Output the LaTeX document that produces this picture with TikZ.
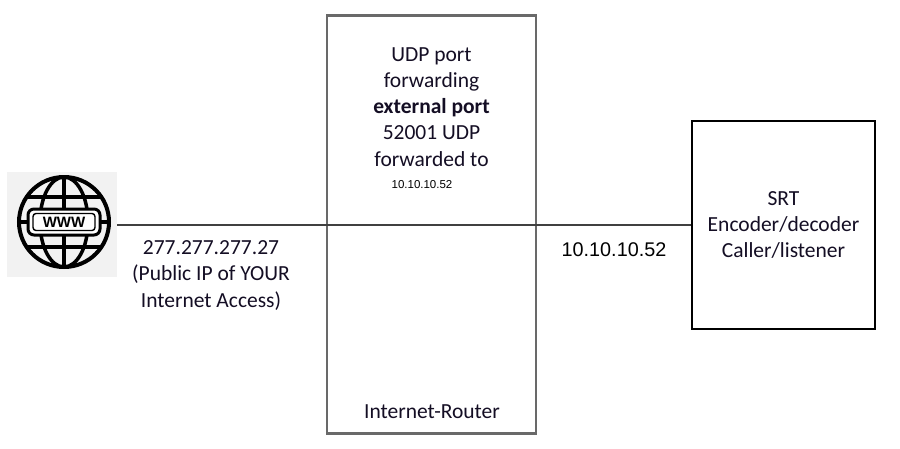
\documentclass[tikz,border=0pt]{standalone}
\usepackage{fontspec}
\usetikzlibrary{calc}
\setmainfont{Carlito}
\newfontfamily\arialfont{Liberation Sans}
\definecolor{routergray}{RGB}{105,105,105}
\definecolor{linegray}{RGB}{64,64,64}
\definecolor{txt}{RGB}{20,14,36}
\definecolor{iconbg}{RGB}{242,242,242}
\begin{document}
\begin{tikzpicture}[x=1pt,y=-1pt,
  calib/.style={font=\fontsize{21.5}{26}\selectfont, text=txt, inner sep=0pt, anchor=base},
  arialtxt/.style={font=\arialfont\fontsize{19.8}{24}\selectfont, text=black, inner sep=0pt, anchor=base},
  arialsmall/.style={font=\arialfont\fontsize{11.5}{14}\selectfont, text=black, inner sep=0pt, anchor=base},
  routerbox/.style={draw=routergray, line width=2.5pt, fill=white, minimum width=209pt, minimum height=418pt, inner sep=0pt},
  srtbox/.style={draw=black, line width=2pt, fill=white, minimum width=183pt, minimum height=208pt, inner sep=0pt},
  iconbox/.style={fill=iconbg, minimum width=110pt, minimum height=105pt, inner sep=0pt},
  link/.style={draw=linegray, line width=2pt},
  globeline/.style={draw=black, line width=3.5pt},
]
\useasboundingbox (0,0) rectangle (900,448);
\fill[white] (0,0) rectangle (900,448);

% boxes
\node[routerbox] (router) at (431.5,224.5) {};
\node[srtbox] (srt) at (783.5,224.5) {};
\node[iconbox] (globe) at (62,224.5) {};

% connector
\draw[link] (globe.east) -- (srt.west);

% globe icon
\coordinate (gc) at (64,222);
\begin{scope}
  \clip (gc) circle (45);
  \draw[globeline] ($(gc)+(0,-45)$) -- ($(gc)+(0,45)$);
  \draw[globeline] (gc) ellipse (24 and 45);
  \draw[globeline] ($(gc)+(-45,-25)$) -- ($(gc)+(45,-25)$);
  \draw[globeline] ($(gc)+(-45,25)$) -- ($(gc)+(45,25)$);
  \draw[globeline] ($(gc)+(-45,0)$) -- ($(gc)+(45,0)$);
\end{scope}
\draw[draw=black, line width=4pt] (gc) circle (45);
\draw[fill=white, draw=black, line width=3pt, rounded corners=6pt] ($(gc)+(-36,-13)$) rectangle ($(gc)+(36,13)$);
\draw[draw=black, line width=1.4pt, rounded corners=3pt] ($(gc)+(-31,-8.5)$) rectangle ($(gc)+(31,8.5)$);
\node[font=\arialfont\bfseries\fontsize{15}{15}\selectfont, inner sep=0pt] (www) at (gc) {WWW};

% left texts
\node[calib] (pubip) at (211,254) {277.277.277.27};
\node[calib] (pub2) at (211,280.5) {(Public IP of YOUR};
\node[calib] (pub3) at (211,307) {Internet Access)};

% router texts
\node[calib] (r1) at (431.5,61) {UDP port};
\node[calib] (r2) at (431.5,87) {forwarding};
\node[calib] (r3) at (431.5,113) {\bfseries external port};
\node[calib] (r4) at (431.5,139.5) {52001 UDP};
\node[calib] (r5) at (431.5,166) {forwarded to};
\node[arialsmall] (r6) at (422,188) {10.10.10.52};
\node[calib] (rname) at (432,418) {Internet-Router};

% right texts
\node[arialtxt] (lanip) at (614,256) {10.10.10.52};
\node[calib] (s1) at (783.5,205) {SRT};
\node[calib] (s2) at (783.5,231) {Encoder/decoder};
\node[calib] (s3) at (783.5,257) {Caller/listener};
\end{tikzpicture}
\end{document}
